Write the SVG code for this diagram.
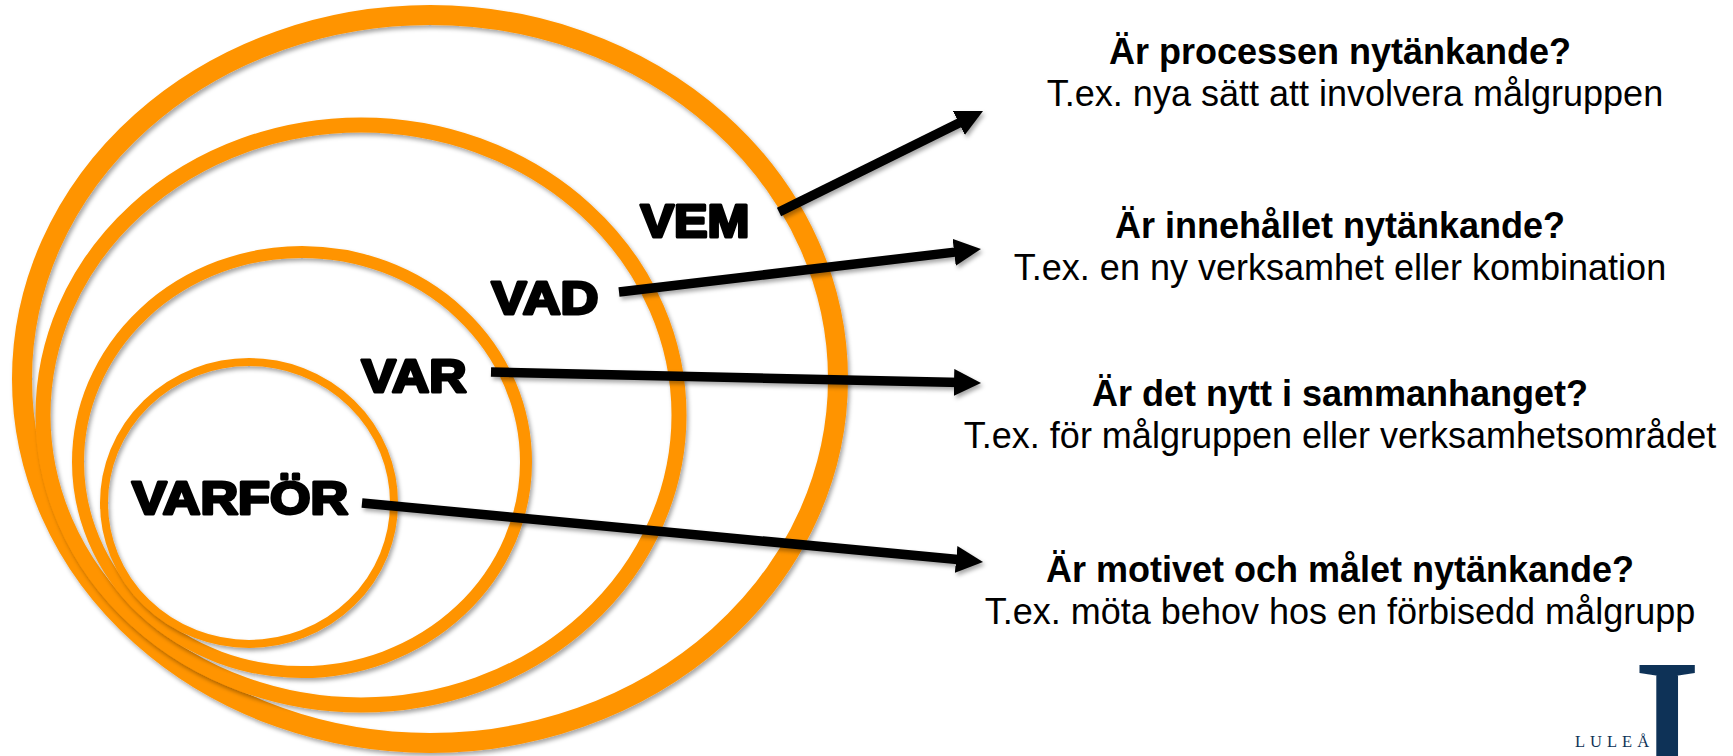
<svg xmlns="http://www.w3.org/2000/svg" width="1733" height="756" viewBox="0 0 1733 756">
<style>
.ring{fill:none;stroke:#FF9400}
.lbl{font-family:"Liberation Sans",Arial,sans-serif;font-weight:bold;font-size:46px;fill:#000;stroke:#000;stroke-width:3px;stroke-linejoin:round}
.q{font-family:"Liberation Sans",Arial,sans-serif;font-weight:bold;font-size:36px;fill:#000;text-anchor:middle}
.e{font-family:"Liberation Sans",Arial,sans-serif;font-size:36px;fill:#000;text-anchor:middle}
.conn{stroke:#000;stroke-width:9.5;fill:none;marker-end:url(#ah)}
.logo{font-family:"Liberation Serif","Times New Roman",serif;fill:#0E3257}
</style>
<defs>
<filter id="sh" x="-10%" y="-10%" width="120%" height="120%">
<feDropShadow dx="2" dy="3" stdDeviation="2" flood-color="#000" flood-opacity="0.35"/>
</filter>
<marker id="ah" markerUnits="userSpaceOnUse" markerWidth="28" markerHeight="28" refX="7" refY="13.5" orient="auto" viewBox="0 0 28 28">
<path d="M0,0 L27,13.5 L0,27 z" fill="#000"/>
</marker>
</defs>
<rect width="1733" height="756" fill="#fff"/>
<g id="ring-vem" filter="url(#sh)"><ellipse class="ring" cx="430" cy="379" rx="408" ry="364" stroke-width="20"/></g>
<g id="ring-vad" filter="url(#sh)"><ellipse class="ring" cx="361" cy="415" rx="318" ry="290" stroke-width="15"/></g>
<g id="ring-var" filter="url(#sh)"><ellipse class="ring" cx="302" cy="462" rx="224" ry="210" stroke-width="12"/></g>
<g id="ring-varfor" filter="url(#sh)"><ellipse class="ring" cx="249" cy="503" rx="145" ry="141" stroke-width="8"/></g>
<g id="label-vem"><text class="lbl" x="640.5" y="236.5" textLength="109" lengthAdjust="spacingAndGlyphs">VEM</text></g>
<g id="label-vad"><text class="lbl" x="491.5" y="313.5" textLength="107" lengthAdjust="spacingAndGlyphs">VAD</text></g>
<g id="label-var"><text class="lbl" x="361.5" y="391.5" textLength="105" lengthAdjust="spacingAndGlyphs">VAR</text></g>
<g id="label-varfor"><text class="lbl" x="132" y="513.5" textLength="216" lengthAdjust="spacingAndGlyphs">VARFÖR</text></g>
<g id="connectors" filter="url(#sh)">
<line class="conn" x1="779" y1="212" x2="965.1" y2="119.9"/>
<line class="conn" x1="619" y1="292" x2="961.1" y2="251.4"/>
<line class="conn" x1="491" y1="372" x2="961" y2="382.6"/>
<line class="conn" x1="362" y1="503" x2="963.1" y2="560.1"/>
</g>
<g id="q1"><text class="q" x="1340" y="64">Är processen nytänkande?</text><text class="e" x="1355" y="106">T.ex. nya sätt att involvera målgruppen</text></g>
<g id="q2"><text class="q" x="1340" y="238">Är innehållet nytänkande?</text><text class="e" x="1340" y="280">T.ex. en ny verksamhet eller kombination</text></g>
<g id="q3"><text class="q" x="1340" y="406">Är det nytt i sammanhanget?</text><text class="e" x="1340" y="448">T.ex. för målgruppen eller verksamhetsområdet</text></g>
<g id="q4"><text class="q" x="1340" y="582">Är motivet och målet nytänkande?</text><text class="e" x="1340" y="624">T.ex. möta behov hos en förbisedd målgrupp</text></g>
<g id="logo">
<text class="logo" x="1667" y="797" font-size="200" text-anchor="middle" stroke="#0E3257" stroke-width="3">I</text>
<text class="logo" x="1575" y="747" font-size="16.5" letter-spacing="5">LULEÅ</text>
</g>
</svg>
